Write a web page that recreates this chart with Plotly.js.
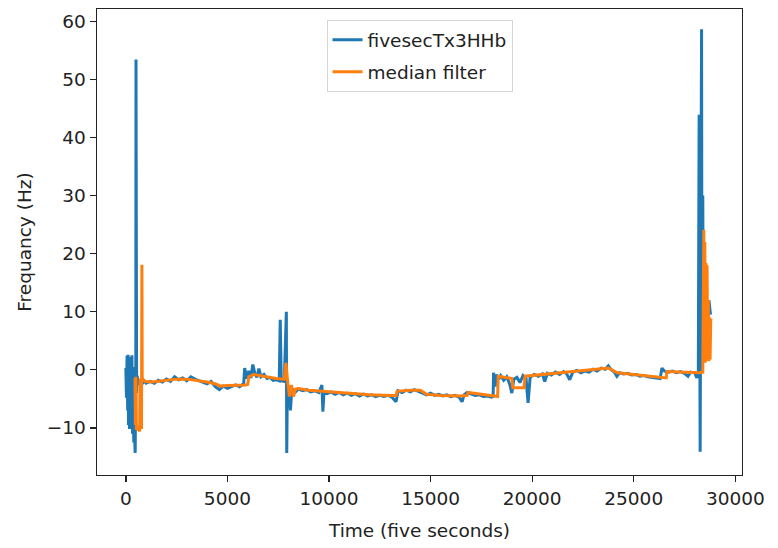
<!DOCTYPE html>
<html>
<head>
<meta charset="utf-8">
<script src="https://cdn.plot.ly/plotly-3.0.1.min.js"></script>
<style>html,body{margin:0;padding:0;background:#fff;}#chart{width:778px;height:548px;}</style>
</head>
<body>
<div id="chart"></div>
<script>
// Raw signal: fivesecTx3HHb
const rawTime = [0,30,60,90,110,130,150,180,210,240,270,300,330,360,390,420,445,460,475,490,500,510,530,560,600,650,700,800,900,1000,1200,1400,1600,1800,2000,2200,2400,2600,2800,3000,3200,3400,3600,3800,4000,4200,4400,4600,4800,5000,5200,5400,5600,5800,5850,5950,6050,6150,6250,6350,6450,6550,6650,6800,6950,7100,7250,7400,7550,7600,7650,7800,7900,7920,7950,8000,8050,8100,8150,8250,8350,8500,8700,8900,9100,9300,9500,9650,9700,9750,9900,10100,10300,10500,10700,10900,11100,11300,11500,11700,11900,12100,12300,12500,12700,12900,13100,13300,13400,13600,13800,14000,14200,14400,14600,14800,15000,15200,15400,15600,15800,16000,16200,16400,16550,16650,16800,17000,17200,17400,17600,17800,18000,18080,18100,18180,18250,18350,18450,18600,18750,18900,19000,19100,19250,19400,19550,19700,19800,19900,20100,20300,20500,20620,20750,20950,21150,21350,21550,21700,21850,22000,22200,22400,22600,22800,23000,23200,23400,23600,23750,23900,24050,24170,24300,24500,24700,24900,25100,25300,25500,25700,25900,26100,26300,26390,26500,26700,26900,27100,27300,27500,27670,27800,28000,28110,28180,28220,28240,28270,28300,28340,28360,28400,28430,28500,28600,28700,28780];
const rawFreq = [0.3,-4.8,2.4,-7,2.6,-9.5,1.8,-10.2,2.2,-8,-2,2.5,-11,-3,-12.5,0.5,-13,-14.3,-7,-3,53.4,-1.5,-4,-1,-2.5,-2.3,-2.2,-2.4,-1.9,-2.3,-2.0,-2.3,-1.8,-2.1,-1.6,-2.0,-1.2,-1.7,-1.4,-1.9,-1.2,-1.6,-1.9,-2.1,-2.4,-2.0,-2.9,-3.4,-2.8,-3.2,-2.9,-2.6,-2.9,-2.4,0.3,-1.5,-0.2,-1.4,0.9,-0.6,-1.3,0.2,-1.2,-0.8,-1.5,-1.3,-1.8,-1.7,-1.9,8.6,-1.9,-2.0,10.0,-14.3,-2.5,-6.5,-3.0,-7,-4.5,-3.5,-3.8,-3.3,-3.6,-3.4,-3.8,-3.6,-3.9,-2.6,-7.2,-4.0,-4.1,-3.8,-4.2,-3.9,-4.3,-4.0,-4.4,-4.1,-4.5,-4.2,-4.5,-4.3,-4.6,-4.4,-4.6,-4.4,-4.7,-5.5,-3.6,-3.9,-3.5,-3.8,-3.4,-3.7,-4.1,-4.3,-4.0,-4.4,-4.2,-4.5,-4.3,-4.6,-4.4,-4.7,-5.5,-4.3,-3.9,-4.2,-4.4,-4.3,-4.6,-4.5,-4.7,-4.6,-0.5,-2.9,-0.8,-1.6,-1.0,-1.8,-1.2,-2.5,-4.0,-1.6,-1.3,-2.2,-1.0,-1.5,-5.7,-1.3,-0.8,-1.1,-0.7,-2.0,-0.6,-0.9,-0.4,-0.8,-0.3,-0.7,-1.7,-0.4,-0.1,-0.5,-0.2,-0.4,0.1,-0.2,0.3,0.1,0.7,0.0,-0.4,-1.1,-0.5,-0.7,-0.6,-0.9,-0.8,-1.1,-1.0,-1.2,-1.3,-1.4,-1.5,0.3,-0.2,-0.4,-0.2,-0.5,-0.3,-0.6,-1.1,-0.4,-0.5,-1.4,-0.3,43.9,-0.5,-14.1,20,58.6,0,30,2,15,3,12,9.5];

// Median filtered signal
const medTime = [450,470,495,520,600,680,700,730,770,790,805,850,1000,1300,1600,2000,2500,3000,3500,4000,4400,4650,5000,5500,5900,6000,6050,6300,6600,7000,7400,7800,7880,7950,8050,8150,8250,8350,8500,9000,9700,10200,11000,12000,13000,13300,13350,14000,14500,14800,15500,16500,16800,16850,17500,18000,18300,18330,18800,19000,19050,19600,19650,20200,21000,22000,23000,23750,24200,25000,26000,26600,26630,27200,27800,28200,28400,28450,28470,28500,28520,28550,28580,28610,28640,28670,28700,28730,28760,28790,28830];
const medFreq = [-1.5,-9.5,-1.2,-10.3,-10.0,-10.6,-1.5,-9,-10.2,18.1,-1.2,-1.8,-2.0,-2.1,-2.0,-1.8,-1.6,-1.6,-1.8,-2.1,-2.4,-2.8,-2.7,-2.7,-2.6,-2.5,-1.2,-0.8,-1.0,-1.2,-1.5,-1.6,1.2,-1.5,-4.6,-2.6,-4.6,-3.3,-3.2,-3.5,-3.7,-3.9,-4.1,-4.3,-4.4,-4.4,-3.7,-3.5,-3.5,-4.2,-4.4,-4.5,-4.4,-3.9,-4.2,-4.5,-4.6,-1.1,-1.4,-1.5,-3.1,-3.1,-1.1,-0.9,-0.6,-0.3,0.0,0.3,-0.5,-0.8,-1.2,-1.4,-0.3,-0.4,-0.5,-0.5,-0.4,24.1,1.5,22,1.2,18.4,1.5,18,2,12,1.5,9,1.8,8.6,8.8];

const xTicks = [0,5000,10000,15000,20000,25000,30000];
const yTicks = [-10,0,10,20,30,40,50,60];

const FONT = "DejaVu Sans";
const FS = 18.5;
const data = [
  {x: rawTime, y: rawFreq, type: 'scatter', mode: 'lines', name: 'fivesecTx3HHb', legendgroup: 'a',
   line: {color: '#1f77b4', width: 3}},
  {x: medTime, y: medFreq, type: 'scatter', mode: 'lines', name: 'median filter', legendgroup: 'b',
   line: {color: '#ff7f0e', width: 3}}
];
const axisCommon = {
  showgrid: false, zeroline: false, showline: true, mirror: true,
  linecolor: '#222', linewidth: 1.4, ticks: 'outside', ticklen: 6, tickwidth: 1.3,
  tickcolor: '#222', tickfont: {family: FONT, size: FS, color: '#222'}
};
const layout = {
  width: 778, height: 548,
  margin: {l: 97, r: 36, t: 9, b: 73},
  paper_bgcolor: '#fff', plot_bgcolor: '#fff',
  showlegend: true,
  legend: {x: 0.5, xanchor: 'center', y: 0.976, yanchor: 'top', tracegroupgap: 5,
           bgcolor: 'rgba(255,255,255,0.8)', bordercolor: '#d6d6d6', borderwidth: 1,
           font: {family: FONT, size: FS, color: '#222'}},
  xaxis: Object.assign({}, axisCommon, {
    range: [-1420, 30330], tickvals: xTicks, ticktext: xTicks.map(String),
    title: {text: 'Time (five seconds)', font: {family: FONT, size: FS, color: '#222'}, standoff: 16}
  }),
  yaxis: Object.assign({}, axisCommon, {
    range: [-18.1, 62.1], tickvals: yTicks, ticktext: yTicks.map(v => v < 0 ? '\u2212' + Math.abs(v) : String(v)),
    title: {text: 'Frequancy (Hz)', font: {family: FONT, size: FS, color: '#222'}, standoff: 10}
  })
};
Plotly.newPlot('chart', data, layout, {displayModeBar: false, staticPlot: true});
</script>
</body>
</html>
